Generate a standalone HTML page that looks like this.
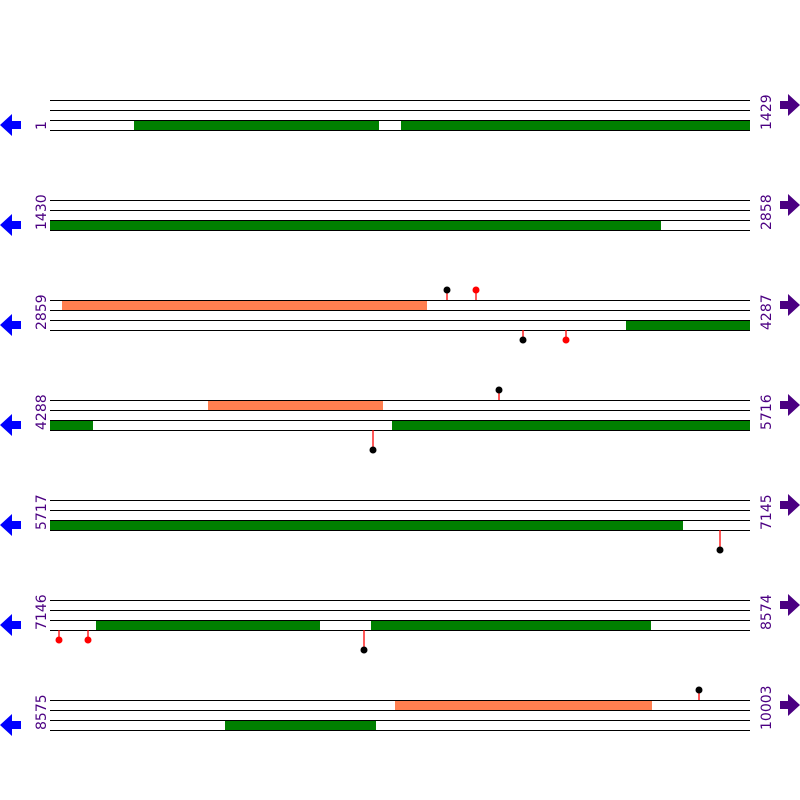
<!DOCTYPE html>
<html><head><style>body{margin:0;background:#fff}svg{display:block}</style></head><body>
<svg width="800" height="800" xmlns="http://www.w3.org/2000/svg" font-family="DejaVu Sans, sans-serif" font-size="14">
<defs>
<g id="base" shape-rendering="crispEdges">
<line x1="50" x2="750" y1="100.5" y2="100.5" stroke="#000" stroke-width="1"/>
<line x1="50" x2="750" y1="110.5" y2="110.5" stroke="#000" stroke-width="1"/>
<line x1="50" x2="750" y1="120.5" y2="120.5" stroke="#000" stroke-width="1"/>
<line x1="50" x2="750" y1="130.5" y2="130.5" stroke="#000" stroke-width="1"/>
</g>
<g id="arr">
<polygon points="0,125 12,114 12,121 21,121 21,129 12,129 12,136" fill="#0000ff"/>
<polygon points="800,105 788,94 788,101 780,101 780,109 788,109 788,116" fill="#4b0082"/>
</g>
</defs>
<rect width="800" height="800" fill="#fff"/>

<g>
<rect x="134" y="120" width="245" height="10" fill="#008000"/>
<rect x="401" y="120" width="349" height="10" fill="#008000"/>
<use href="#base"/><use href="#arr"/>
<text transform="translate(46,130) rotate(-90)" fill="#4b0082">1</text>
<text transform="translate(771,130) rotate(-90)" fill="#4b0082">1429</text>
</g>

<g transform="translate(0,100)">
<rect x="50" y="120" width="611" height="10" fill="#008000"/>
<use href="#base"/><use href="#arr"/>
<text transform="translate(46,130) rotate(-90)" fill="#4b0082">1430</text>
<text transform="translate(771,130) rotate(-90)" fill="#4b0082">2858</text>
</g>

<g transform="translate(0,200)">
<rect x="62" y="100" width="365" height="10" fill="#ff7f50"/>
<rect x="626" y="120" width="124" height="10" fill="#008000"/>
<use href="#base"/><use href="#arr"/>
<line x1="447" x2="447" y1="100" y2="90" stroke="red" stroke-width="1.3"/><circle cx="447" cy="90" r="3.5" fill="#000"/>
<line x1="476" x2="476" y1="100" y2="90" stroke="red" stroke-width="1.3"/><circle cx="476" cy="90" r="3.5" fill="red"/>
<line x1="523" x2="523" y1="130" y2="140" stroke="red" stroke-width="1.3"/><circle cx="523" cy="140" r="3.5" fill="#000"/>
<line x1="566" x2="566" y1="130" y2="140" stroke="red" stroke-width="1.3"/><circle cx="566" cy="140" r="3.5" fill="red"/>
<text transform="translate(46,130) rotate(-90)" fill="#4b0082">2859</text>
<text transform="translate(771,130) rotate(-90)" fill="#4b0082">4287</text>
</g>

<g transform="translate(0,300)">
<rect x="208" y="100" width="175" height="10" fill="#ff7f50"/>
<rect x="50" y="120" width="43" height="10" fill="#008000"/>
<rect x="392" y="120" width="358" height="10" fill="#008000"/>
<use href="#base"/><use href="#arr"/>
<line x1="499" x2="499" y1="100" y2="90" stroke="red" stroke-width="1.3"/><circle cx="499" cy="90" r="3.5" fill="#000"/>
<line x1="373" x2="373" y1="130" y2="150" stroke="red" stroke-width="1.3"/><circle cx="373" cy="150" r="3.5" fill="#000"/>
<text transform="translate(46,130) rotate(-90)" fill="#4b0082">4288</text>
<text transform="translate(771,130) rotate(-90)" fill="#4b0082">5716</text>
</g>

<g transform="translate(0,400)">
<rect x="50" y="120" width="633" height="10" fill="#008000"/>
<use href="#base"/><use href="#arr"/>
<line x1="720" x2="720" y1="130" y2="150" stroke="red" stroke-width="1.3"/><circle cx="720" cy="150" r="3.5" fill="#000"/>
<text transform="translate(46,130) rotate(-90)" fill="#4b0082">5717</text>
<text transform="translate(771,130) rotate(-90)" fill="#4b0082">7145</text>
</g>

<g transform="translate(0,500)">
<rect x="96" y="120" width="224" height="10" fill="#008000"/>
<rect x="371" y="120" width="280" height="10" fill="#008000"/>
<use href="#base"/><use href="#arr"/>
<line x1="59" x2="59" y1="130" y2="140" stroke="red" stroke-width="1.3"/><circle cx="59" cy="140" r="3.5" fill="red"/>
<line x1="88" x2="88" y1="130" y2="140" stroke="red" stroke-width="1.3"/><circle cx="88" cy="140" r="3.5" fill="red"/>
<line x1="364" x2="364" y1="130" y2="150" stroke="red" stroke-width="1.3"/><circle cx="364" cy="150" r="3.5" fill="#000"/>
<text transform="translate(46,130) rotate(-90)" fill="#4b0082">7146</text>
<text transform="translate(771,130) rotate(-90)" fill="#4b0082">8574</text>
</g>

<g transform="translate(0,600)">
<rect x="395" y="100" width="257" height="10" fill="#ff7f50"/>
<rect x="225" y="120" width="151" height="10" fill="#008000"/>
<use href="#base"/><use href="#arr"/>
<line x1="699" x2="699" y1="100" y2="90" stroke="red" stroke-width="1.3"/><circle cx="699" cy="90" r="3.5" fill="#000"/>
<text transform="translate(46,130) rotate(-90)" fill="#4b0082">8575</text>
<text transform="translate(771,130) rotate(-90)" fill="#4b0082">10003</text>
</g>
</svg>
</body></html>
